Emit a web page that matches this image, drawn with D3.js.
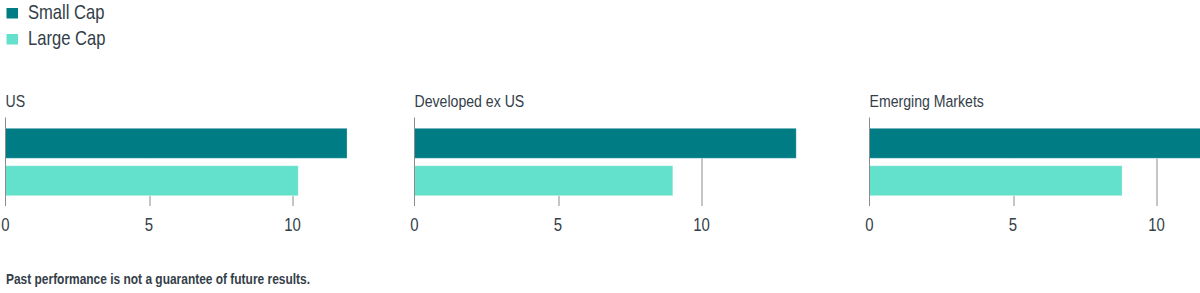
<!DOCTYPE html>
<html>
<head>
<meta charset="utf-8">
<script src="https://cdn.jsdelivr.net/npm/d3@7"></script>
<style>
  html, body { margin: 0; padding: 0; background: #fff; }
  svg { display: block; }
  text { font-family: "Liberation Sans", Arial, sans-serif; fill: #333e48; }
</style>
</head>
<body>
<svg id="chart" width="1200" height="293"></svg>
<script>
// ---- data ----
const regions = ["US", "Developed ex US", "Emerging Markets"];
const seriesNames = ["Small Cap", "Large Cap"];
const smallCap = [11.9, 13.3, 12.2];
const largeCap = [10.2, 9.0, 8.8];
const tickValues = [0, 5, 10];
const tickLabels = ["0", "5", "10"];
const footnote = "Past performance is not a guarantee of future results.";

// ---- style / layout ----
const colors = ["#007c85", "#64e1cc"];
const panelX = [5.5, 414.5, 869.5];
const squeeze = 0.83; // condensed look
const svg = d3.select("#chart");

function label(sel, x, y, size, str, anchor) {
  return sel.append("text")
    .attr("transform", `translate(${x},${y}) scale(${squeeze},1)`)
    .attr("font-size", size)
    .attr("text-anchor", anchor || "start")
    .text(str);
}

// legend
seriesNames.forEach((name, i) => {
  const g = svg.append("g").attr("transform", `translate(6.5,${8 + i * 26})`);
  g.append("rect").attr("width", 11.5).attr("height", 10.5).attr("fill", colors[i]);
  label(g, 21.5, 10.5, 20, name);
});

const x = d3.scaleLinear().domain([0, 10]).range([0, 287]);
const y = d3.scaleBand().domain(seriesNames).range([118, 206]).paddingInner(0.2).paddingOuter(0.276);

regions.forEach((region, r) => {
  const g = svg.append("g").attr("transform", `translate(${panelX[r]},0)`);
  label(g, 0, 106.5, 17, region);

  const vals = [smallCap[r], largeCap[r]];

  // gridlines (behind bars)
  g.selectAll("line.grid").data(tickValues.filter(t => t > 0)).enter().append("line")
    .attr("x1", d => Math.round(x(d)) + 0.5).attr("x2", d => Math.round(x(d)) + 0.5)
    .attr("y1", y("Small Cap") + y.bandwidth()).attr("y2", 206)
    .attr("stroke", "#8c8c8c").attr("stroke-width", 1);

  // white backing for the gaps beneath bars
  g.selectAll("rect.back").data(vals).enter().append("rect")
    .attr("x", 0)
    .attr("y", (d, i) => i === 0 ? y(seriesNames[0]) : y(seriesNames[0]) + y.bandwidth())
    .attr("width", d => x(d))
    .attr("height", (d, i) => i === 0 ? y.bandwidth() : y(seriesNames[1]) - y(seriesNames[0]))
    .attr("fill", "#fff");

  // bars
  g.selectAll("rect.bar").data(vals).enter().append("rect")
    .attr("x", 0)
    .attr("y", (d, i) => y(seriesNames[i]))
    .attr("width", d => x(d))
    .attr("height", y.bandwidth())
    .attr("fill", (d, i) => colors[i])
    .attr("stroke", "rgba(255,255,255,0.25)").attr("stroke-width", 1);

  // axis baseline
  g.append("line").attr("x1", 0).attr("x2", 0).attr("y1", 117.5).attr("y2", 206)
    .attr("stroke", "#8c8c8c").attr("stroke-width", 1);

  // tick labels
  tickValues.forEach((t, i) => label(g, x(t), 231, 18, tickLabels[i], "middle"));
});

svg.append("text").attr("x", 6).attr("y", 283.5)
  .attr("font-size", 15).attr("font-weight", "bold")
  .attr("textLength", 304).attr("lengthAdjust", "spacingAndGlyphs")
  .text(footnote);
</script>
</body>
</html>
